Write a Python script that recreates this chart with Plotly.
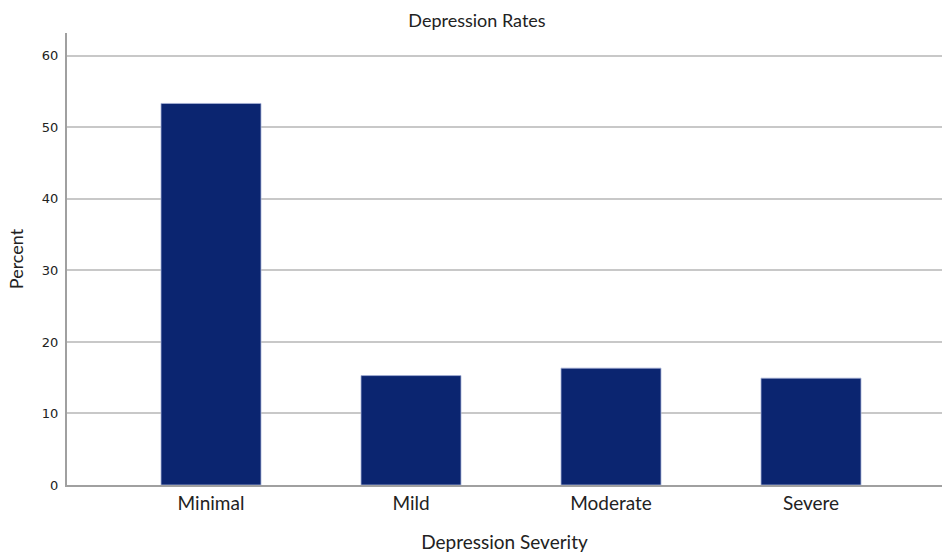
import plotly.graph_objects as go

categories = ["Minimal", "Mild", "Moderate", "Severe"]
percent = [53.35, 15.3, 16.34, 14.94]
y_ticks = [0, 10, 20, 30, 40, 50, 60]

FONT = "Lato, sans-serif"
TXT = "#222"
AXIS = "#a0a0a0"
PLOT_H = 554 - 33 - 69

fig = go.Figure()
fig.add_trace(go.Bar(
    x=categories, y=percent, width=0.5,
    marker=dict(color="#0b2570", line=dict(color="#a8b4d8", width=0.8)),
))

fig.update_layout(
    width=942, height=554,
    margin=dict(l=67, r=0, t=33, b=69, autoexpand=False),
    paper_bgcolor="white", plot_bgcolor="white",
    showlegend=False,
    font=dict(family=FONT, color=TXT),
    title=dict(text="Depression Rates", x=477/942, xref="container", xanchor="center",
               y=1 - 21/554, yref="container", yanchor="middle",
               font=dict(size=18, family=FONT, color=TXT)),
    shapes=[dict(type="line", xref="paper", yref="paper", x0=0, x1=1.02,
                 y0=-1/PLOT_H, y1=-1/PLOT_H,
                 line=dict(color=AXIS, width=2), layer="above")],
)
fig.update_xaxes(
    range=[-0.72, 3.655], showgrid=False, automargin=False,
    showline=True, linecolor=AXIS, linewidth=2,
    ticks="", tickfont=dict(size=19, family=FONT, color=TXT),
    title=dict(text="Depression Severity", font=dict(size=19, family=FONT, color=TXT), standoff=23),
)
fig.update_yaxes(
    range=[0, 63.2], tickvals=y_ticks, automargin=False,
    showgrid=True, gridcolor="#c8c8c8", gridwidth=1.5,
    showline=True, linecolor=AXIS, linewidth=2,
    ticks="", ticklabelstandoff=4,
    tickfont=dict(size=13, family="DejaVu Sans, sans-serif", color=TXT),
    title=dict(text="Percent", font=dict(size=18, family=FONT, color=TXT), standoff=14),
    zeroline=False,
)

fig.write_html(
    "out.html",
    config={"displayModeBar": False},
    post_script="document.body.style.margin='0';document.body.style.overflow='hidden';document.documentElement.style.overflow='hidden';",
)
